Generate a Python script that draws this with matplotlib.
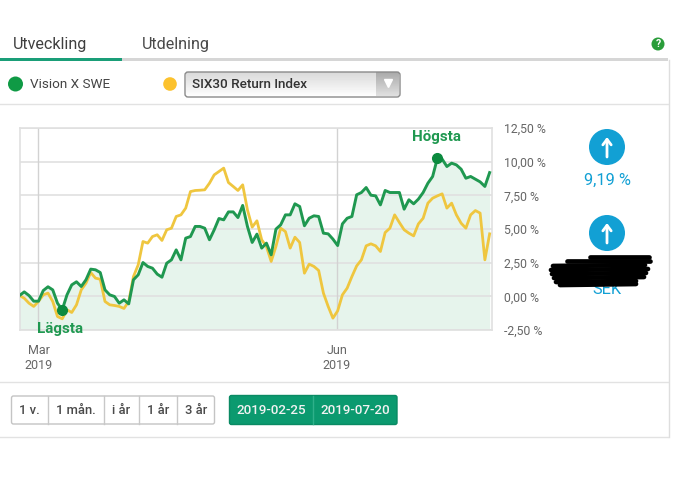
import numpy as np
import matplotlib
matplotlib.use('Agg')
import matplotlib.pyplot as plt
from matplotlib.patches import Circle, Rectangle, FancyBboxPatch

plt.rcParams['font.family'] = ['Roboto', 'DejaVu Sans']

# percent change per trading day
fund = [0.06, 0.33, 0.06, -0.36, -0.36, 0.43, 0.71, 0.48, -0.51, -1.0,
        0.11, 0.85, 1.08, 0.73, 1.23, 2.02, 1.97, 1.77, 0.48, 0.11,
        -0.01, -0.51, -0.26, -0.56, 1.23, 1.6, 2.51, 2.22, 2.09, 1.65,
        1.42, 2.46, 2.71, 3.45, 2.71, 4.32, 4.44, 5.19, 5.19, 5.06,
        4.2, 4.94, 5.78, 5.68, 6.27, 6.27, 5.85, 6.75, 5.19, 4.0,
        4.62, 3.58, 3.95, 3.08, 4.99, 5.31, 6.05, 6.05, 6.87, 6.67,
        5.24, 5.8, 5.98, 5.93, 4.69, 4.64, 4.25, 3.77, 5.38, 5.8,
        5.93, 7.54, 7.71, 8.08, 7.51, 7.46, 6.79, 7.86, 7.71, 7.71,
        7.71, 6.47, 7.17, 6.87, 7.22, 7.71, 8.4, 8.9, 10.26, 10.19,
        9.64, 9.89, 9.76, 9.44, 8.77, 8.9, 8.7, 8.5, 8.16, 9.19]
index = [0.06, -0.14, -0.51, -0.75, -0.38, 0.11, 0.24, -0.38, -1.5, -1.67,
         -1.0, -1.2, -0.63, 0.48, 0.98, 1.77, 1.35, 1.27, -0.38, -0.63,
         -0.68, -0.75, -0.9, -0.38, 1.47, 2.34, 4.07, 3.95, 4.44, 4.57,
         4.15, 4.94, 5.06, 5.93, 6.05, 6.55, 7.78, 7.86, 7.88, 7.91,
         8.4, 9.02, 9.27, 9.52, 8.45, 8.16, 7.86, 8.28, 6.42, 5.14,
         5.61, 4.2, 3.7, 2.59, 3.7, 5.06, 4.81, 3.58, 4.39, 4.0,
         1.72, 2.39, 2.22, 1.92, 0.24, -0.75, -1.62, -1.08, 0.11, 0.61,
         1.47, 2.26, 2.71, 3.75, 3.9, 3.75, 3.33, 4.74, 5.06, 6.05,
         5.48, 4.94, 4.69, 4.49, 5.38, 5.8, 6.92, 7.29, 7.46, 7.61,
         6.55, 6.92, 6.05, 5.43, 5.06, 6.05, 6.37, 6.18, 2.71, 4.64]
y_ticks = [-2.5, 0, 2.5, 5, 7.5, 10, 12.5]
y_labels = ['-2,50 %', '0,00 %', '2,50 %', '5,00 %', '7,50 %', '10,00 %', '12,50 %']
month_pos = [4, 66.8]
month_labels = ['Mar\n2019', 'Jun\n2019']
low_pos, high_pos = 9, 88

GREEN = '#1f9850'
YELLOW = '#efc63f'
W, H = 679, 487

fig = plt.figure(figsize=(W / 100, H / 100), dpi=100)

# page furniture in pixel coordinates
ui = fig.add_axes([0, 0, 1, 1])
ui.axis('off')

grad = np.linspace(0, 1, 24).reshape(-1, 1)
ui.imshow(grad, extent=(186, 376, 96, 72), cmap='gray', vmin=-6, vmax=1.05, aspect='auto', zorder=1)
ui.imshow(grad, extent=(376, 399, 96, 72), cmap='gray', vmin=-3.2, vmax=1.6, aspect='auto', zorder=1)
ui.set_xlim(0, W)
ui.set_ylim(H, 0)

ui.add_patch(Rectangle((0, 57.5), 668, 3, color='#d6d6d6', lw=0))
ui.add_patch(Rectangle((0, 57.5), 122, 3.5, color='#1a9e78', lw=0))
ui.plot([668.5, 668.5], [60, 437], color='#dedede', lw=1)
for y in [104, 382, 437]:
    ui.plot([0, 668], [y, y], color='#e2e2e2', lw=1)

ui.text(13, 44, 'Utveckling', fontsize=11.6, color='#3f3f3f', va='center')
ui.text(142, 44, 'Utdelning', fontsize=11.6, color='#4a4a4a', va='center')
ui.add_patch(Circle((658, 44), 6.5, color='#2a9d3a', lw=0))
ui.text(658, 44, '?', fontsize=7.5, color='white', weight='bold', ha='center', va='center')

ui.add_patch(Circle((15.5, 84), 7.5, color='#0f9a45', lw=0))
ui.text(30, 84.5, 'Vision X SWE', fontsize=9.7, color='#444444', va='center')
ui.add_patch(Circle((170, 84), 6.8, color='#fcc22e', lw=0))
ui.add_patch(FancyBboxPatch((185, 72), 215, 25, boxstyle='round,pad=0,rounding_size=3',
                            fc='none', ec='#8a8a8a', lw=1, zorder=2))
ui.plot([387.5], [83], marker='v', color='white', ms=6, zorder=3)
ui.text(192, 84.5, 'SIX30 Return Index', fontsize=9.7, color='#333333', weight='medium', va='center', zorder=3)

for cy in [147, 233]:
    ui.add_patch(Circle((607, cy), 18, color='#12a0d4', lw=0))
    ui.annotate('', xy=(607, cy - 10), xytext=(607, cy + 10),
                arrowprops=dict(arrowstyle='->,head_width=0.3,head_length=0.4', color='white', lw=2,
                                shrinkA=0, shrinkB=0))
ui.text(607, 180, '9,19 %', fontsize=11.8, color='#12a0d4', ha='center', va='center')
ui.text(607, 290, 'SEK', fontsize=11.8, color='#12a0d4', ha='center', va='center')
# redaction scribble
scribble = [([590, 649], [257, 257]), ([567, 650], [261, 261]), ([553, 645], [266, 265]),
            ([551, 648], [270, 269]), ([552, 646], [274, 273]), ([554, 644], [278, 277]),
            ([556, 636], [282, 281]), ([560, 636], [285, 284])]
for xs, ys in scribble:
    ui.plot(xs, ys, color='black', lw=3.4, solid_capstyle='round', zorder=5)

# range buttons
ui.add_patch(FancyBboxPatch((11.5, 396), 203, 28, boxstyle='round,pad=0,rounding_size=2',
                            fc='white', ec='#c4c4c4', lw=1))
for x in [47.5, 104, 138.5, 177]:
    ui.plot([x, x], [396, 424], color='#c8c8c8', lw=1)
for x, s in zip([29.5, 76, 121, 158, 196], ['1 v.', '1 mån.', 'i år', '1 år', '3 år']):
    ui.text(x, 410.5, s, fontsize=9.4, color='#4a4a4a', weight='medium', ha='center', va='center')
ui.add_patch(FancyBboxPatch((229.5, 395.5), 167.5, 29, boxstyle='round,pad=0,rounding_size=2',
                            fc='#0b9a6f', ec='#0a8a63', lw=1))
ui.plot([313, 313], [396, 424], color='#2fb08a', lw=1)
ui.text(271, 410.5, '2019-02-25', fontsize=9.6, color='#f2f2f2', weight='medium', ha='center', va='center')
ui.text(355, 410.5, '2019-07-20', fontsize=9.6, color='#f2f2f2', weight='medium', ha='center', va='center')

# chart
ax = fig.add_axes([19.5 / W, (H - 330) / H, 472.5 / W, 202 / H])
ax.patch.set_alpha(0)
days = np.arange(len(fund))
ax.fill_between(days, fund, -2.5, color='#e6f4ec', lw=0, zorder=1)
for y in y_ticks:
    ax.axhline(y, color='#e0e0e0', lw=1.2, zorder=2)
for x in month_pos:
    ax.axvline(x, color='#d2d2d2', lw=1, zorder=2)
ax.plot(days, index, color=YELLOW, lw=2, zorder=3)
ax.plot(days, fund, color=GREEN, lw=2.1, zorder=4)
ax.plot([low_pos, high_pos], [fund[low_pos], fund[high_pos]], 'o', color='#0b8a3e', ms=7, zorder=5)
ax.annotate('Lägsta', (low_pos, fund[low_pos]), xytext=(-2, -19), textcoords='offset pixels',
            ha='center', va='center', fontsize=10.9, weight='bold', color=GREEN, zorder=6)
ax.annotate('Högsta', (high_pos, fund[high_pos]), xytext=(-1, 21), textcoords='offset pixels',
            ha='center', va='center', fontsize=10.9, weight='bold', color=GREEN, zorder=6)

ax.set_xlim(0, 99.5)
ax.set_ylim(-2.5, 12.5)
ax.yaxis.tick_right()
ax.set_yticks(y_ticks, y_labels, fontsize=8.8, color='#666666')
ax.set_xticks(month_pos, month_labels, fontsize=9, color='#666666', linespacing=1.2)
ax.tick_params(length=0)
ax.tick_params(axis='y', pad=9)
ax.tick_params(axis='x', pad=10)
for s in ax.spines.values():
    s.set_color('#e0e0e0')
    s.set_linewidth(1.2)

fig.savefig('out.png', dpi=100)
